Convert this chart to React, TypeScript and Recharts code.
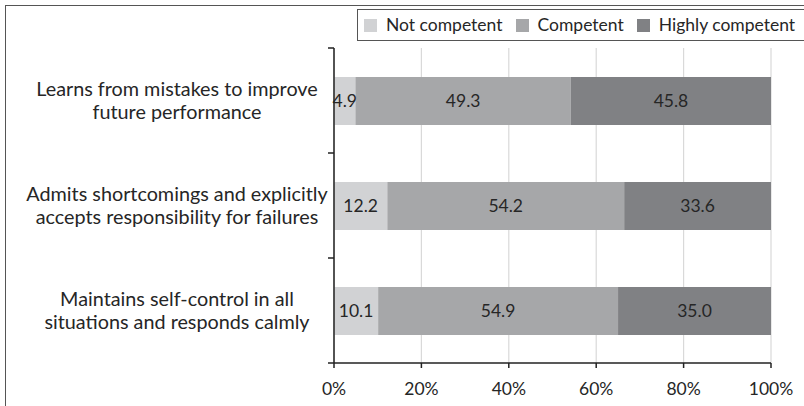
import { Bar, BarChart, CartesianGrid, LabelList, XAxis, YAxis } from "recharts";

const categories = [
  "Learns from mistakes to improve\nfuture performance",
  "Admits shortcomings and explicitly\naccepts responsibility for failures",
  "Maintains self-control in all\nsituations and responds calmly"
];
const notCompetent = [4.9, 12.2, 10.1];
const competent = [49.3, 54.2, 54.9];
const highlyCompetent = [45.8, 33.6, 35.0];
const xTicks = [0, 20, 40, 60, 80, 100];

const series = [
  { key: "notCompetent", name: "Not competent", color: "#d1d2d4" },
  { key: "competent", name: "Competent", color: "#a6a7a9" },
  { key: "highlyCompetent", name: "Highly competent", color: "#808184" }
];

const data = categories.map((name, i) => ({
  name,
  notCompetent: notCompetent[i],
  competent: competent[i],
  highlyCompetent: highlyCompetent[i]
}));

const WIDTH = 804;
const HEIGHT = 406;
const MARGIN = { top: 48, right: 33, bottom: 0, left: 0 };
const X_AXIS_HEIGHT = 43;
const Y_AXIS_WIDTH = 334;
const FONT = "Lato, 'Open Sans', sans-serif";
const TEXT = "#262626";
const AXIS = "#222";

const bandSize = (HEIGHT - MARGIN.top - MARGIN.bottom - X_AXIS_HEIGHT) / categories.length;

function CategoryTick(props: any) {
  const { y, payload, index } = props;
  const axisX = MARGIN.left + Y_AXIS_WIDTH;
  const lines = String(payload.value).split("\n");
  const top = y - bandSize / 2;

  return (
    <g>
      <line stroke={AXIS} strokeWidth={1.5} x1={axisX - 6} x2={axisX} y1={top} y2={top} />
      {index === categories.length - 1 && (
        <line stroke={AXIS} strokeWidth={1.5} x1={axisX - 6} x2={axisX} y1={y + bandSize / 2} y2={y + bandSize / 2} />
      )}
      <text fill={TEXT} fontFamily={FONT} fontSize={19.8} textAnchor="middle" x={177} y={y - 5}>
        {lines.map((line, i) => (
          <tspan dy={i === 0 ? 0 : 23.5} key={i} x={177}>
            {line}
          </tspan>
        ))}
      </text>
    </g>
  );
}

export default function App() {
  return (
    <div
      style={{
        position: "absolute",
        left: 0,
        top: 0,
        width: WIDTH,
        height: HEIGHT,
        overflow: "hidden",
        background: "#fff",
        fontFamily: FONT
      }}
    >
      <div
        style={{
          position: "absolute",
          left: 5,
          top: 5,
          width: 900,
          height: 500,
          border: "1.5px solid #555",
          boxSizing: "border-box"
        }}
      />
      <div style={{ position: "absolute", left: 0, top: 0 }}>
        <BarChart data={data} height={HEIGHT} layout="vertical" margin={MARGIN} width={WIDTH}>
          <CartesianGrid horizontal={false} stroke="#d9d9d9" strokeWidth={1.2} />
          <XAxis
            axisLine={{ stroke: AXIS, strokeWidth: 1.5 }}
            domain={[0, 100]}
            height={X_AXIS_HEIGHT}
            tick={{ fill: TEXT, fontFamily: FONT, fontSize: 17.5 }}
            tickFormatter={(v: number) => `${v}%`}
            tickLine={{ stroke: AXIS, strokeWidth: 1.5 }}
            tickMargin={15}
            tickSize={5}
            ticks={xTicks}
            type="number"
          />
          <YAxis
            axisLine={{ stroke: AXIS, strokeWidth: 1.5 }}
            dataKey="name"
            interval={0}
            tick={<CategoryTick />}
            tickLine={false}
            type="category"
            width={Y_AXIS_WIDTH}
          />
          {series.map((s) => (
            <Bar
              barSize={48}
              dataKey={s.key}
              fill={s.color}
              isAnimationActive={false}
              key={s.key}
              name={s.name}
              stackId="a"
            >
              <LabelList
                dataKey={s.key}
                fill={TEXT}
                fontFamily={FONT}
                fontSize={17.5}
                formatter={(v: any) => Number(v).toFixed(1)}
                position="center"
              />
            </Bar>
          ))}
        </BarChart>
      </div>
      <div
        style={{
          position: "absolute",
          left: 357,
          top: 9,
          width: 500,
          height: 32,
          border: "1.5px solid #555",
          boxSizing: "border-box",
          background: "#fff",
          display: "flex",
          alignItems: "center",
          paddingLeft: 6
        }}
      >
        {series.map((s) => (
          <div key={s.key} style={{ display: "flex", alignItems: "center", marginRight: 13 }}>
            <span style={{ width: 13, height: 13, background: s.color, marginRight: 9 }} />
            <span style={{ color: TEXT, fontSize: 17.5, lineHeight: "20px" }}>{s.name}</span>
          </div>
        ))}
      </div>
    </div>
  );
}
